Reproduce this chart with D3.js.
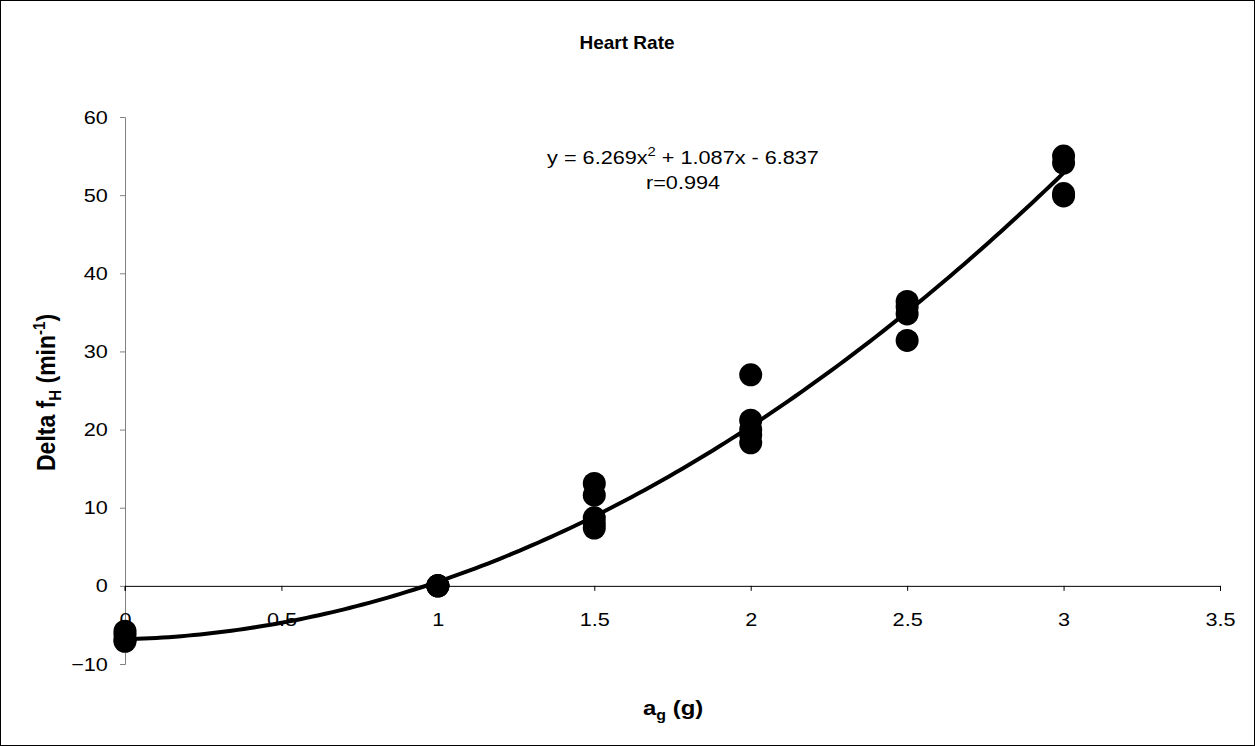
<!DOCTYPE html>
<html><head><meta charset="utf-8">
<script src="https://cdn.jsdelivr.net/npm/d3@7"></script>
<style>body{margin:0;background:#fff}svg{display:block}text{font-family:"Liberation Sans",Arial,sans-serif}</style>
</head><body>
<svg id="c" width="1255" height="746"></svg>
<script>
const xValues = [0,0,0,0, 1,1,1,1, 1.5,1.5,1.5,1.5,1.5, 2,2,2,2,2, 2.5,2.5,2.5,2.5, 3,3,3,3];
const yValues = [-5.8,-6.3,-6.9,-7.1, 0,0,0,0, 13.1,11.6,8.7,8.0,7.4, 27.0,21.2,20.0,19.3,18.3, 36.4,35.7,34.8,31.4, 55.0,54.1,50.2,49.9];
const coefs = [6.269, 1.087, -6.837];
const xTicks = [0,0.5,1,1.5,2,2.5,3,3.5];
const yTicks = [-10,0,10,20,30,40,50,60];

const SX = 1.14;
const FF = "Liberation Sans, Arial, sans-serif";
const svg = d3.select("#c");
svg.append("rect").attr("x",0.5).attr("y",0.5).attr("width",1254).attr("height",745).attr("fill","#fff").attr("stroke","#000");

const x = d3.scaleLinear().domain([0,3.5]).range([125,1220]);
const y = d3.scaleLinear().domain([-10,60]).range([664,117]);

// y axis
const ya = svg.append("g").attr("transform","translate(125,0)")
  .call(d3.axisLeft(y).tickValues(yTicks).tickSize(5).tickPadding(10).tickFormat(d3.format("d")));
ya.select(".domain").attr("stroke","#808080").attr("d","M-5,117.5H0.5V664.5H-5");
ya.selectAll(".tick line").attr("stroke","#808080");
ya.selectAll(".tick text").attr("font-size",19).attr("fill","#000").attr("font-family",FF)
  .attr("transform",`scale(${SX},1)`);

// x axis at y=0
const xa = svg.append("g").attr("transform",`translate(0,${y(0)})`)
  .call(d3.axisBottom(x).tickValues(xTicks).tickSize(5).tickPadding(22).tickFormat(d=>d));
xa.select(".domain").attr("stroke","#000").attr("d",`M125,5V0.5H1220.5V5`);
xa.selectAll(".tick line").attr("stroke","#000");
xa.selectAll(".tick text").attr("font-size",19).attr("fill","#000").attr("font-family",FF)
  .attr("transform",`scale(${SX},1)`);

// points
svg.append("g").selectAll("circle").data(xValues.map((v,i)=>[v,yValues[i]])).join("circle")
  .attr("cx",d=>x(d[0])).attr("cy",d=>y(d[1])).attr("r",11.5).attr("fill","#000");

// curve
const xs = d3.range(0,3.0001,0.02);
const line = d3.line().x(d=>x(d)).y(d=>y(coefs[0]*d*d+coefs[1]*d+coefs[2]));
svg.append("path").datum(xs).attr("d",line).attr("fill","none").attr("stroke","#000").attr("stroke-width",4);

// title
svg.append("text").attr("transform",`translate(627,49)`).attr("text-anchor","middle")
  .attr("font-size",19).attr("font-weight","bold").text("Heart Rate");

// equation
const eq = svg.append("text").attr("transform",`translate(683,164) scale(${SX},1)`).attr("text-anchor","middle").attr("font-size",19);
eq.append("tspan").text("y = 6.269x");
eq.append("tspan").attr("dy",-8).attr("font-size",13).text("2");
eq.append("tspan").attr("dy",8).text(" + 1.087x - 6.837");
svg.append("text").attr("transform",`translate(683,189) scale(${SX},1)`).attr("text-anchor","middle").attr("font-size",19).text("r=0.994");

// x label
const xl = svg.append("text").attr("transform",`translate(643,715) scale(${SX},1)`).attr("font-size",21).attr("font-weight","bold");
xl.append("tspan").text("a");
xl.append("tspan").attr("dy",5).attr("font-size",14).text("g");
xl.append("tspan").attr("dy",-5).text(" (g)");

// y label
const yl = svg.append("text").attr("transform",`translate(55,471) scale(${SX},1) rotate(-90)`).attr("font-size",23).attr("font-weight","bold");
yl.append("tspan").text("Delta f");
yl.append("tspan").attr("dy",5).attr("font-size",15).text("H");
yl.append("tspan").attr("dy",-5).text(" (min");
yl.append("tspan").attr("dy",-9).attr("font-size",15).text("-1");
yl.append("tspan").attr("dy",9).text(")");
</script>
</body></html>
